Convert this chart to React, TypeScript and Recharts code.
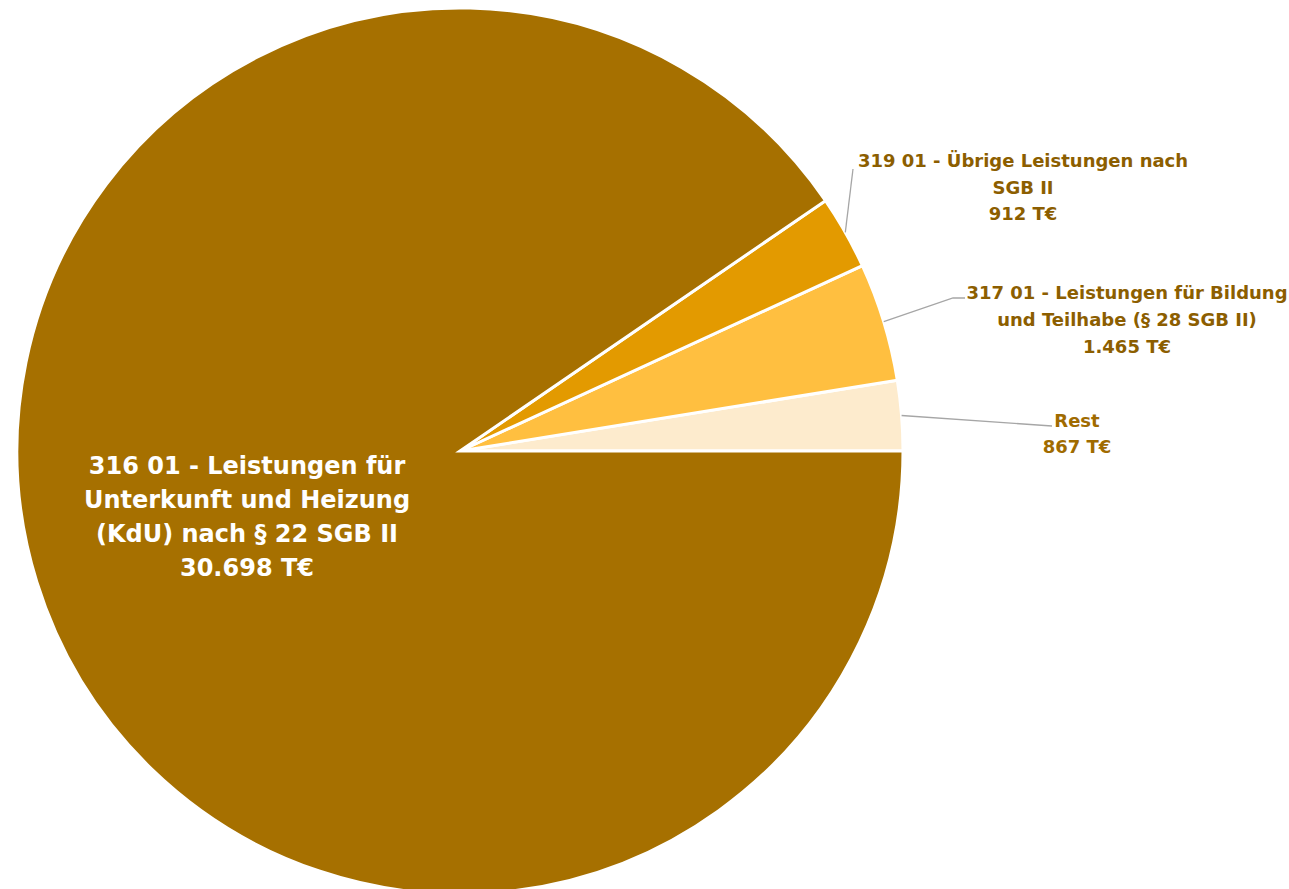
import React from "react"
import { PieChart, Pie, Cell } from "recharts"

// Haushaltsstellen (Beschriftung, Zeilenumbrüche mit \n)
const categories = [
    "Rest",
    "317 01 - Leistungen für Bildung\nund Teilhabe (§ 28 SGB II)",
    "319 01 - Übrige Leistungen nach\nSGB II",
    "316 01 - Leistungen für\nUnterkunft und Heizung\n(KdU) nach § 22 SGB II",
]
const values = [867, 1465, 912, 30698] // in T€
const colors = ["#FDEBCD", "#FFBF40", "#E39A00", "#A67000"]
const labelColors = ["#A06B00", "#8C5E00", "#8C5E00", "#FFFFFF"]

const data = categories.map((name, i) => ({ name, value: values[i] }))

// Position der Beschriftungen (Textmitte, erste Zeile) und Knickpunkte der Linien
const labelLayout = [
    { x: 1077, y: 420, lineH: 26, size: 18, path: [[1052, 426]] },
    { x: 1127, y: 292, lineH: 27, size: 18, path: [[953, 298], [965, 298]] },
    { x: 1023, y: 160, lineH: 26.5, size: 18, path: [[853, 169]] },
    { x: 247, y: 466, lineH: 34, size: 24, path: null },
]

const RAD = Math.PI / 180
const fmt = (v: number) => String(v).replace(/\B(?=(\d{3})+(?!\d))/g, ".") + " T€"

const renderLabel = (props: any) => {
    const { cx, cy, midAngle, outerRadius, index, value, name } = props
    const l = labelLayout[index]
    const lines = [...String(name).split("\n"), fmt(value)]
    let leader = null
    if (l.path) {
        const sx = cx + outerRadius * Math.cos(-midAngle * RAD)
        const sy = cy + outerRadius * Math.sin(-midAngle * RAD)
        const pts = [[sx, sy], ...l.path].map((p) => p.join(",")).join(" ")
        leader = <polyline points={pts} fill="none" stroke="#A6A6A6" strokeWidth={1.3} />
    }
    return (
        <g key={`lbl-${index}`}>
            {leader}
            <text
                x={l.x}
                y={l.y}
                textAnchor="middle"
                dominantBaseline="central"
                fill={labelColors[index]}
                fontFamily="'DejaVu Sans', sans-serif"
                fontWeight="bold"
                fontSize={l.size}
            >
                {lines.map((t, i) => (
                    <tspan key={i} x={l.x} y={l.y + i * l.lineH}>
                        {t}
                    </tspan>
                ))}
            </text>
        </g>
    )
}

export default function App() {
    return (
        <div style={{ position: "absolute", left: 0, top: 0, width: 1289, height: 889, overflow: "hidden", background: "#fff" }}>
            <PieChart width={1289} height={889} margin={{ top: 0, right: 0, bottom: 0, left: 0 }}>
                <Pie
                    data={data}
                    dataKey="value"
                    nameKey="name"
                    cx={460}
                    cy={451}
                    outerRadius={443}
                    startAngle={0}
                    endAngle={360}
                    stroke="#FFFFFF"
                    strokeWidth={3}
                    isAnimationActive={false}
                    label={renderLabel}
                    labelLine={false}
                >
                    {data.map((entry, index) => (
                        <Cell key={`cell-${index}`} fill={colors[index]} />
                    ))}
                </Pie>
            </PieChart>
        </div>
    )
}
